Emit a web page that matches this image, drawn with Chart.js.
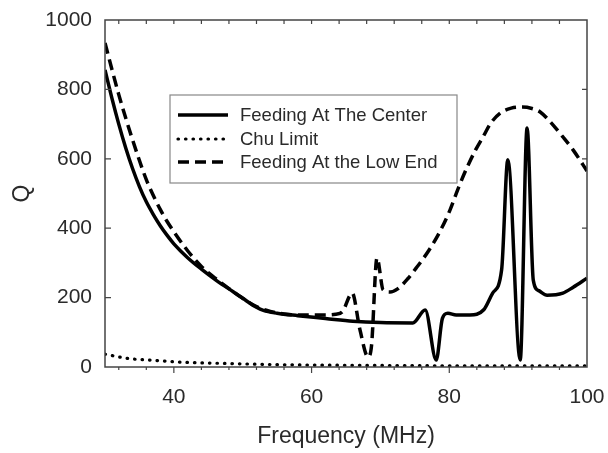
<!DOCTYPE html>
<html>
<head>
<meta charset="utf-8">
<script src="https://cdn.jsdelivr.net/npm/chart.js@4.4.0/dist/chart.umd.min.js"></script>
<style>
  html, body { margin: 0; padding: 0; background: #fff; }
  #wrap { width: 608px; height: 453px; }
</style>
</head>
<body>
<div id="wrap"><canvas id="myChart" width="608" height="453"></canvas></div>
<script>
// values
var freqCenter = [30, 31, 32, 33, 34, 35, 36, 37, 38, 39, 40, 42, 44, 46, 48, 50, 52, 53, 55, 58, 62, 66, 70, 74.7,
                  76.5, 78.1, 79, 79.8, 81, 83, 85, 86.3, 87.6, 88.5, 90.3, 91.3, 92.2, 93, 94.2, 96.5, 98, 100];
var qCenter = [856, 775, 700, 632, 572, 520, 476, 440, 408, 380, 355, 315, 282, 252, 225, 198, 172, 163, 155, 148, 140, 132, 128, 127,
               164, 20, 140, 155, 150, 150, 165, 213, 280, 597, 20, 689, 250, 220, 207, 213, 230, 256];

var freqLowEnd = [30, 31, 32, 33, 34, 35, 36, 37, 38, 39, 40, 42, 44, 46, 48, 50, 52, 54, 56, 58, 60, 62, 63.5, 64.5,
                  65.9, 67, 68.2, 68.7, 69.5, 70.4, 71.4, 72.5, 74, 75.3, 77, 78.6, 80.1, 81.3, 82.6, 83.8, 84.9,
                  86, 87.4, 89, 90.6, 92, 93.2, 94.5, 96.5, 98, 100];
var qLowEnd = [934, 858, 785, 718, 655, 595, 540, 495, 455, 420, 390, 335, 290, 256, 226, 198, 174, 160, 153, 150, 150, 150, 152, 160,
               213, 110, 29, 60, 314, 222, 216, 225, 255, 288, 335, 389, 452, 515, 576, 625, 663,
               702, 732, 746, 749, 745, 735, 710, 663, 625, 565];

var freqChu = [30, 32, 34, 36.5, 40, 44, 48, 52, 58, 65, 75, 85, 100];
var qChu = [37, 29, 23, 20, 15, 12, 10, 8, 6, 5, 4, 3, 3];

var xTickLabels = [40, 60, 80, 100];
var yTickLabels = [0, 200, 400, 600, 800, 1000];

var seriesNames = ['Feeding At The Center', 'Chu Limit', 'Feeding At the Low End'];

function toPoints(xs, ys) {
    var pts = [];
    for (var i = 0; i < xs.length; i++) pts.push({x: xs[i], y: ys[i]});
    return pts;
}

var FONT = '"Liberation Sans", Arial, sans-serif';
var TEXT = '#2a2a2a';

// frame, tick marks and the boxed legend
var framePlugin = {
    id: 'frame',
    afterDraw: function(chart) {
        var c = chart.ctx, a = chart.chartArea;
        var xs = chart.scales.x, ys = chart.scales.y;
        c.save();
        c.strokeStyle = '#444';
        c.lineWidth = 1.5;
        c.strokeRect(a.left, a.top, a.right - a.left, a.bottom - a.top);
        c.lineWidth = 1.2;
        c.beginPath();
        for (var v = 32; v < 100; v += 4) {
            var px = xs.getPixelForValue(v);
            var major = (v % 20 === 0);
            c.moveTo(px, a.bottom); c.lineTo(px, a.bottom + (major ? 6 : 3));
            c.moveTo(px, a.top); c.lineTo(px, a.top + 4);
        }
        for (var q = 200; q < 1000; q += 200) {
            var py = ys.getPixelForValue(q);
            c.moveTo(a.left, py); c.lineTo(a.left + 6, py);
            c.moveTo(a.right, py); c.lineTo(a.right - 5, py);
        }
        c.stroke();

        // legend
        c.fillStyle = '#fff';
        c.fillRect(170, 95, 287, 88);
        c.strokeStyle = '#888';
        c.lineWidth = 1.2;
        c.strokeRect(170, 95, 287, 88);
        var rows = [115, 139, 162];
        var ds = chart.data.datasets;
        for (var i = 0; i < rows.length; i++) {
            var d = ds[i];
            c.beginPath();
            c.strokeStyle = '#000';
            c.lineWidth = d.borderWidth;
            c.lineCap = d.borderCapStyle || 'butt';
            c.setLineDash(d.borderDash || []);
            c.moveTo(178, rows[i]); c.lineTo(228, rows[i]);
            c.stroke();
            c.setLineDash([]);
            c.fillStyle = TEXT;
            c.font = '18.5px ' + FONT;
            c.textBaseline = 'middle';
            c.fillText(d.label, 240, rows[i] + 1);
        }
        c.restore();
    }
};

var ctx = document.getElementById('myChart').getContext('2d');
var chart = new Chart(ctx, {
    type: 'line',
    data: {
        datasets: [{
            label: seriesNames[0],
            data: toPoints(freqCenter, qCenter),
            borderColor: '#000',
            borderWidth: 3.5,
            cubicInterpolationMode: 'monotone',
            pointRadius: 0
        }, {
            label: seriesNames[1],
            data: toPoints(freqChu, qChu),
            borderColor: '#000',
            borderWidth: 3.2,
            borderDash: [0.5, 7],
            borderCapStyle: 'round',
            cubicInterpolationMode: 'monotone',
            pointRadius: 0
        }, {
            label: seriesNames[2],
            data: toPoints(freqLowEnd, qLowEnd),
            borderColor: '#000',
            borderWidth: 3.5,
            borderDash: [11, 6],
            cubicInterpolationMode: 'monotone',
            pointRadius: 0
        }]
    },
    options: {
        responsive: false,
        animation: false,
        layout: { padding: { top: 20, right: 21, left: 0, bottom: 0 } },
        plugins: { legend: { display: false }, tooltip: { enabled: false } },
        scales: {
            x: {
                type: 'linear',
                min: 30, max: 100,
                afterBuildTicks: function(s) { s.ticks = xTickLabels.map(function(v) { return {value: v}; }); },
                afterFit: function(s) { s.height = 86; s.paddingLeft = 0; s.paddingRight = 0; },
                grid: { display: false, drawTicks: false },
                border: { display: false },
                ticks: { padding: 18, color: TEXT, font: { family: FONT, size: 21 },
                         callback: function(v) { return String(v); } },
                title: { display: true, text: 'Frequency (MHz)', color: TEXT,
                         font: { family: FONT, size: 23 }, padding: { top: 0, bottom: 3 } }
            },
            y: {
                min: 0, max: 1000,
                afterBuildTicks: function(s) { s.ticks = yTickLabels.map(function(v) { return {value: v}; }); },
                afterFit: function(s) { s.width = 105; s.paddingTop = 0; s.paddingBottom = 0; },
                grid: { display: false, drawTicks: false },
                border: { display: false },
                ticks: { padding: 13, color: TEXT, font: { family: FONT, size: 21 },
                         callback: function(v) { return String(v); } },
                title: { display: true, text: 'Q', color: TEXT,
                         font: { family: FONT, size: 23 }, padding: { top: 9, bottom: 0 } }
            }
        }
    },
    plugins: [framePlugin]
});
</script>
</body>
</html>
